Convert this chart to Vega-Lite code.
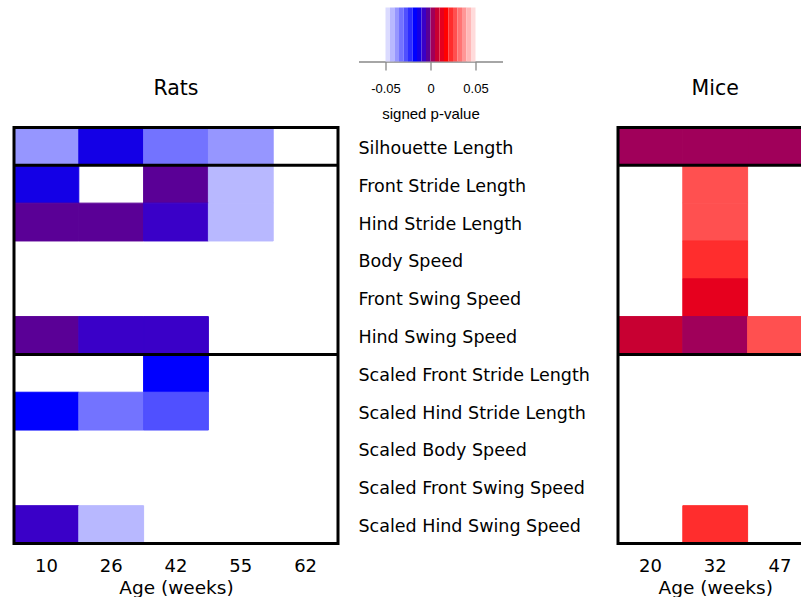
{
  "$schema": "https://vega.github.io/schema/vega-lite/v6.json",
  "padding": {"left": 12, "top": 7.5, "right": 0, "bottom": 0},
  "config": {
    "font": "DejaVu Sans",
    "view": {"stroke": null},
    "axis": {"labelColor": "#000000", "titleColor": "#000000", "titleFontWeight": "normal", "grid": false}
  },
  "datasets": {
    "rows": [
      {"label": "Silhouette Length"},
      {"label": "Front Stride Length"},
      {"label": "Hind Stride Length"},
      {"label": "Body Speed"},
      {"label": "Front Swing Speed"},
      {"label": "Hind Swing Speed"},
      {"label": "Scaled Front Stride Length"},
      {"label": "Scaled Hind Stride Length"},
      {"label": "Scaled Body Speed"},
      {"label": "Scaled Front Swing Speed"},
      {"label": "Scaled Hind Swing Speed"}
    ],
    "rats": [
      {"age": 10, "label": "Silhouette Length", "p": -0.0375},
      {"age": 26, "label": "Silhouette Length", "p": -0.0125},
      {"age": 42, "label": "Silhouette Length", "p": -0.0325},
      {"age": 55, "label": "Silhouette Length", "p": -0.0375},
      {"age": 10, "label": "Front Stride Length", "p": -0.0125},
      {"age": 42, "label": "Front Stride Length", "p": -0.0025},
      {"age": 55, "label": "Front Stride Length", "p": -0.0425},
      {"age": 10, "label": "Hind Stride Length", "p": -0.0025},
      {"age": 26, "label": "Hind Stride Length", "p": -0.0025},
      {"age": 42, "label": "Hind Stride Length", "p": -0.0075},
      {"age": 55, "label": "Hind Stride Length", "p": -0.0425},
      {"age": 10, "label": "Hind Swing Speed", "p": -0.0025},
      {"age": 26, "label": "Hind Swing Speed", "p": -0.0075},
      {"age": 42, "label": "Hind Swing Speed", "p": -0.0075},
      {"age": 42, "label": "Scaled Front Stride Length", "p": -0.0175},
      {"age": 10, "label": "Scaled Hind Stride Length", "p": -0.0175},
      {"age": 26, "label": "Scaled Hind Stride Length", "p": -0.0325},
      {"age": 42, "label": "Scaled Hind Stride Length", "p": -0.0275},
      {"age": 10, "label": "Scaled Hind Swing Speed", "p": -0.0075},
      {"age": 26, "label": "Scaled Hind Swing Speed", "p": -0.0425}
    ],
    "mice": [
      {"age": 20, "label": "Silhouette Length", "p": 0.0025},
      {"age": 32, "label": "Silhouette Length", "p": 0.0025},
      {"age": 47, "label": "Silhouette Length", "p": 0.0025},
      {"age": 32, "label": "Front Stride Length", "p": 0.0275},
      {"age": 32, "label": "Hind Stride Length", "p": 0.0275},
      {"age": 32, "label": "Body Speed", "p": 0.0225},
      {"age": 32, "label": "Front Swing Speed", "p": 0.0125},
      {"age": 20, "label": "Hind Swing Speed", "p": 0.0075},
      {"age": 32, "label": "Hind Swing Speed", "p": 0.0025},
      {"age": 47, "label": "Hind Swing Speed", "p": 0.0275},
      {"age": 32, "label": "Scaled Hind Swing Speed", "p": 0.0225}
    ],
    "bands": [
      {"lo": -0.05, "hi": -0.045, "p": -0.0475},
      {"lo": -0.045, "hi": -0.04, "p": -0.0425},
      {"lo": -0.04, "hi": -0.035, "p": -0.0375},
      {"lo": -0.035, "hi": -0.03, "p": -0.0325},
      {"lo": -0.03, "hi": -0.025, "p": -0.0275},
      {"lo": -0.025, "hi": -0.02, "p": -0.0225},
      {"lo": -0.02, "hi": -0.015, "p": -0.0175},
      {"lo": -0.015, "hi": -0.01, "p": -0.0125},
      {"lo": -0.01, "hi": -0.005, "p": -0.0075},
      {"lo": -0.005, "hi": 0, "p": -0.0025},
      {"lo": 0, "hi": 0.005, "p": 0.0025},
      {"lo": 0.005, "hi": 0.01, "p": 0.0075},
      {"lo": 0.01, "hi": 0.015, "p": 0.0125},
      {"lo": 0.015, "hi": 0.02, "p": 0.0175},
      {"lo": 0.02, "hi": 0.025, "p": 0.0225},
      {"lo": 0.025, "hi": 0.03, "p": 0.0275},
      {"lo": 0.03, "hi": 0.035, "p": 0.0325},
      {"lo": 0.035, "hi": 0.04, "p": 0.0375},
      {"lo": 0.04, "hi": 0.045, "p": 0.0425},
      {"lo": 0.045, "hi": 0.05, "p": 0.0475}
    ],
    "separators": [
      {"label": "Front Stride Length"},
      {"label": "Scaled Front Stride Length"}
    ],
    "frame": [{"frame": "box"}]
  },
  "columns": 3,
  "align": "each",
  "bounds": "flush",
  "spacing": {"row": 20, "column": 20.5},
  "resolve": {"scale": {"x": "independent", "y": "independent", "color": "independent", "stroke": "independent"}},
  "concat": [
    {
      "width": 324,
      "height": 100,
      "data": {"values": [{"panel": "Rats"}]},
      "mark": {"type": "text", "fontSize": 20.5, "font": "DejaVu Sans", "baseline": "middle", "color": "#000000"},
      "encoding": {
        "text": {"field": "panel"},
        "y": {"datum": 0.185, "type": "quantitative", "scale": {"domain": [0, 1], "nice": false, "zero": false}, "axis": null}
      }
    },
    {
      "width": 144,
      "height": 54,
      "data": {"name": "bands"},
      "mark": {"type": "rect"},
      "encoding": {
        "x": {
          "field": "lo",
          "type": "quantitative",
          "scale": {"domain": [-0.08, 0.08], "nice": false, "zero": false},
          "axis": {
            "values": [-0.05, 0, 0.05],
            "labelExpr": "toString(datum.value)",
            "title": "signed p-value",
            "tickSize": 8.5,
            "tickColor": "#888888",
            "domainColor": "#888888",
            "domainWidth": 1.3,
            "tickWidth": 1.3,
            "labelFont": "Liberation Sans",
            "labelFontSize": 13,
            "labelPadding": 12.5,
            "labelFlush": false,
            "titleFont": "Liberation Sans",
            "titleFontSize": 15,
            "titlePadding": 11
          }
        },
        "x2": {"field": "hi"},
        "color": {
          "field": "p",
          "type": "quantitative",
          "scale": {"type": "quantize", "domain": [-0.05, 0.05], "nice": false, "zero": false,
            "range": ["#dbdbff", "#b8b8ff", "#9696ff", "#7373ff", "#5050ff", "#2d2dff", "#0000ff", "#1400e6", "#3a00c8", "#5a0096",
                      "#a0005a", "#c80032", "#e6001e", "#ff0000", "#ff2d2d", "#ff5050", "#ff7373", "#ff9696", "#ffb8b8", "#ffdbdb"]},
          "legend": null
        }
      }
    },
    {
      "width": 194.4,
      "height": 100,
      "data": {"values": [{"panel": "Mice"}]},
      "mark": {"type": "text", "fontSize": 20.5, "font": "DejaVu Sans", "baseline": "middle", "color": "#000000"},
      "encoding": {
        "text": {"field": "panel"},
        "y": {"datum": 0.185, "type": "quantitative", "scale": {"domain": [0, 1], "nice": false, "zero": false}, "axis": null}
      }
    },
    {
      "width": 324,
      "height": 416,
      "layer": [
        {
          "data": {"name": "rats"},
          "mark": {"type": "rect", "strokeWidth": 1},
          "encoding": {
            "x": {
              "field": "age",
              "type": "ordinal",
              "scale": {"domain": [10, 26, 42, 55, 62], "paddingInner": 0, "paddingOuter": 0},
              "axis": {"title": "Age (weeks)", "labelAngle": 0, "ticks": false, "tickSize": 0, "domain": false,
                       "labelPadding": 14, "labelFontSize": 18, "labelFont": "DejaVu Sans",
                       "titleFontSize": 18.5, "titleFont": "DejaVu Sans", "titlePadding": 3}
            },
            "y": {
              "field": "label",
              "type": "nominal",
              "scale": {"domain": ["Silhouette Length", "Front Stride Length", "Hind Stride Length", "Body Speed", "Front Swing Speed", "Hind Swing Speed", "Scaled Front Stride Length", "Scaled Hind Stride Length", "Scaled Body Speed", "Scaled Front Swing Speed", "Scaled Hind Swing Speed"], "paddingInner": 0, "paddingOuter": 0},
              "axis": null
            },
            "color": {
              "field": "p",
              "type": "quantitative",
              "scale": {"type": "quantize", "domain": [-0.05, 0.05], "nice": false, "zero": false,
                "range": ["#dbdbff", "#b8b8ff", "#9696ff", "#7373ff", "#5050ff", "#2d2dff", "#0000ff", "#1400e6", "#3a00c8", "#5a0096",
                          "#a0005a", "#c80032", "#e6001e", "#ff0000", "#ff2d2d", "#ff5050", "#ff7373", "#ff9696", "#ffb8b8", "#ffdbdb"]},
              "legend": null
            },
            "stroke": {
              "field": "p",
              "type": "quantitative",
              "scale": {"type": "quantize", "domain": [-0.05, 0.05], "nice": false, "zero": false,
                "range": ["#dbdbff", "#b8b8ff", "#9696ff", "#7373ff", "#5050ff", "#2d2dff", "#0000ff", "#1400e6", "#3a00c8", "#5a0096",
                          "#a0005a", "#c80032", "#e6001e", "#ff0000", "#ff2d2d", "#ff5050", "#ff7373", "#ff9696", "#ffb8b8", "#ffdbdb"]},
              "legend": null
            }
          }
        },
        {
          "data": {"name": "separators"},
          "mark": {"type": "rule", "color": "#000000", "strokeWidth": 3},
          "encoding": {
            "y": {
              "field": "label",
              "type": "nominal",
              "bandPosition": 0,
              "scale": {"domain": ["Silhouette Length", "Front Stride Length", "Hind Stride Length", "Body Speed", "Front Swing Speed", "Hind Swing Speed", "Scaled Front Stride Length", "Scaled Hind Stride Length", "Scaled Body Speed", "Scaled Front Swing Speed", "Scaled Hind Swing Speed"], "paddingInner": 0, "paddingOuter": 0},
              "axis": null
            }
          }
        },
        {
          "data": {"name": "frame"},
          "mark": {"type": "rect", "fill": "transparent", "stroke": "#000000", "strokeWidth": 3},
          "encoding": {}
        }
      ]
    },
    {
      "width": 239,
      "height": 416,
      "data": {"name": "rows"},
      "mark": {"type": "text", "align": "left", "baseline": "middle", "dy": 2.5, "fontSize": 17.5, "font": "DejaVu Sans", "color": "#000000"},
      "encoding": {
        "x": {"datum": 0, "type": "quantitative", "scale": {"domain": [0, 1], "nice": false, "zero": false}, "axis": null},
        "y": {
          "field": "label",
          "type": "nominal",
          "scale": {"type": "band", "domain": ["Silhouette Length", "Front Stride Length", "Hind Stride Length", "Body Speed", "Front Swing Speed", "Hind Swing Speed", "Scaled Front Stride Length", "Scaled Hind Stride Length", "Scaled Body Speed", "Scaled Front Swing Speed", "Scaled Hind Swing Speed"], "paddingInner": 0, "paddingOuter": 0},
          "axis": null
        },
        "text": {"field": "label"}
      }
    },
    {
      "width": 194.4,
      "height": 416,
      "layer": [
        {
          "data": {"name": "mice"},
          "mark": {"type": "rect", "strokeWidth": 1},
          "encoding": {
            "x": {
              "field": "age",
              "type": "ordinal",
              "scale": {"domain": [20, 32, 47], "paddingInner": 0, "paddingOuter": 0},
              "axis": {"title": "Age (weeks)", "labelAngle": 0, "ticks": false, "tickSize": 0, "domain": false,
                       "labelPadding": 14, "labelFontSize": 18, "labelFont": "DejaVu Sans",
                       "titleFontSize": 18.5, "titleFont": "DejaVu Sans", "titlePadding": 3}
            },
            "y": {
              "field": "label",
              "type": "nominal",
              "scale": {"domain": ["Silhouette Length", "Front Stride Length", "Hind Stride Length", "Body Speed", "Front Swing Speed", "Hind Swing Speed", "Scaled Front Stride Length", "Scaled Hind Stride Length", "Scaled Body Speed", "Scaled Front Swing Speed", "Scaled Hind Swing Speed"], "paddingInner": 0, "paddingOuter": 0},
              "axis": null
            },
            "color": {
              "field": "p",
              "type": "quantitative",
              "scale": {"type": "quantize", "domain": [-0.05, 0.05], "nice": false, "zero": false,
                "range": ["#dbdbff", "#b8b8ff", "#9696ff", "#7373ff", "#5050ff", "#2d2dff", "#0000ff", "#1400e6", "#3a00c8", "#5a0096",
                          "#a0005a", "#c80032", "#e6001e", "#ff0000", "#ff2d2d", "#ff5050", "#ff7373", "#ff9696", "#ffb8b8", "#ffdbdb"]},
              "legend": null
            },
            "stroke": {
              "field": "p",
              "type": "quantitative",
              "scale": {"type": "quantize", "domain": [-0.05, 0.05], "nice": false, "zero": false,
                "range": ["#dbdbff", "#b8b8ff", "#9696ff", "#7373ff", "#5050ff", "#2d2dff", "#0000ff", "#1400e6", "#3a00c8", "#5a0096",
                          "#a0005a", "#c80032", "#e6001e", "#ff0000", "#ff2d2d", "#ff5050", "#ff7373", "#ff9696", "#ffb8b8", "#ffdbdb"]},
              "legend": null
            }
          }
        },
        {
          "data": {"name": "separators"},
          "mark": {"type": "rule", "color": "#000000", "strokeWidth": 3},
          "encoding": {
            "y": {
              "field": "label",
              "type": "nominal",
              "bandPosition": 0,
              "scale": {"domain": ["Silhouette Length", "Front Stride Length", "Hind Stride Length", "Body Speed", "Front Swing Speed", "Hind Swing Speed", "Scaled Front Stride Length", "Scaled Hind Stride Length", "Scaled Body Speed", "Scaled Front Swing Speed", "Scaled Hind Swing Speed"], "paddingInner": 0, "paddingOuter": 0},
              "axis": null
            }
          }
        },
        {
          "data": {"name": "frame"},
          "mark": {"type": "rect", "fill": "transparent", "stroke": "#000000", "strokeWidth": 3},
          "encoding": {}
        }
      ]
    }
  ]
}
